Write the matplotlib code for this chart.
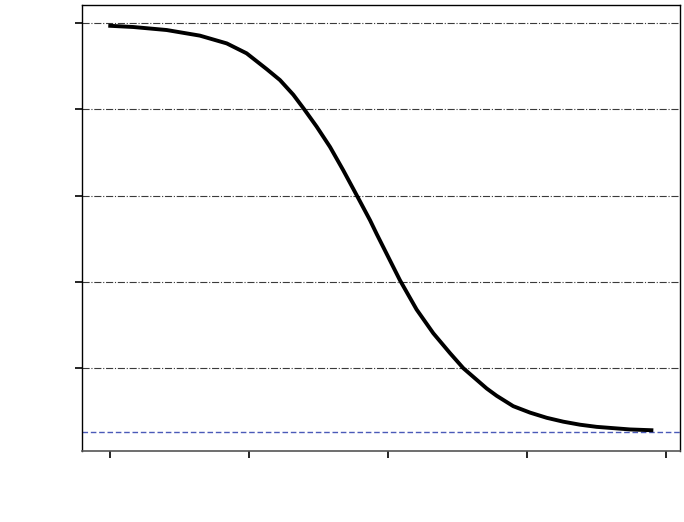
import numpy as np
import matplotlib
matplotlib.use('Agg')
import matplotlib.pyplot as plt

# values (x in tick units, y in gridline units)
x_vals = [-0.012, 0.168, 0.408, 0.647, 0.840, 0.983, 1.129, 1.223, 1.319, 1.398, 1.487,
          1.583, 1.678, 1.775, 1.871, 1.919, 2.086, 2.206, 2.326, 2.446, 2.542, 2.710,
          2.782, 2.901, 3.022, 3.142, 3.261, 3.381, 3.501, 3.621, 3.741, 3.909]
y_vals = [0.994, 0.991, 0.984, 0.971, 0.953, 0.930, 0.893, 0.868, 0.834, 0.800, 0.760,
          0.713, 0.659, 0.601, 0.543, 0.511, 0.404, 0.336, 0.281, 0.235, 0.200, 0.153,
          0.136, 0.112, 0.097, 0.085, 0.076, 0.069, 0.064, 0.061, 0.058, 0.056]
x_ticks = [0, 1, 2, 3, 4]
y_ticks = [0.2, 0.4, 0.6, 0.8, 1.0]
baseline = 0.0514

fig = plt.figure(figsize=(6.84, 5.22), dpi=100)
ax = fig.add_axes([0.1199, 0.136, 0.8743, 0.8544])

for yt in y_ticks:
    ax.axhline(yt, color='#3a3a3a', lw=0.8, ls='-.', zorder=1)
ax.axhline(baseline, color='#4a5ab8', lw=1.0, ls='--', dashes=(4, 2), zorder=1)

ax.plot(x_vals, y_vals, color='black', lw=2.8, solid_capstyle='butt',
        solid_joinstyle='round', zorder=3)

ax.set_xlim(-0.201, 4.101)
ax.set_ylim(0.008, 1.042)
ax.set_xticks(x_ticks)
ax.set_yticks(y_ticks)
ax.set_xticklabels([])
ax.set_yticklabels([])
ax.tick_params(axis='both', direction='out', length=5, width=1.2, color='black')

for side in ['top', 'right', 'left']:
    ax.spines[side].set_color('black')
    ax.spines[side].set_linewidth(1.0)
ax.spines['bottom'].set_color('#555555')
ax.spines['bottom'].set_linewidth(1.2)

fig.savefig('out.png', dpi=100)
